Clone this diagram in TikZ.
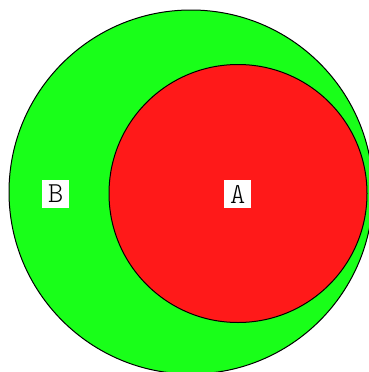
\documentclass[tikz,border=0pt]{standalone}
\usepackage{fontspec}
\setmonofont{Latin Modern Mono Light}
\definecolor{cgreen}{RGB}{25,255,25}
\definecolor{cred}{RGB}{255,25,25}
\begin{document}
\begin{tikzpicture}[x=1pt,y=-1pt,
  setc/.style={draw=black, line width=1pt},
  lbl/.style={fill=white, font=\ttfamily\fontsize{29}{29}\selectfont, inner xsep=5.8pt, inner ysep=5.2pt}]
\useasboundingbox (0,0) rectangle (369,372);
\begin{scope}
\clip (0,0) rectangle (369,372);
\fill[cgreen] (191,192) circle[radius=182];
\draw[setc] (191,192) circle[radius=182];
\fill[cred] (238,193.5) circle[radius=129];
\draw[setc] (238,193.5) circle[radius=129];
\end{scope}
\node[lbl] (b) at (55.7,194) {B};
\node[lbl] (a) at (237.7,194) {A};
\end{tikzpicture}
\end{document}
